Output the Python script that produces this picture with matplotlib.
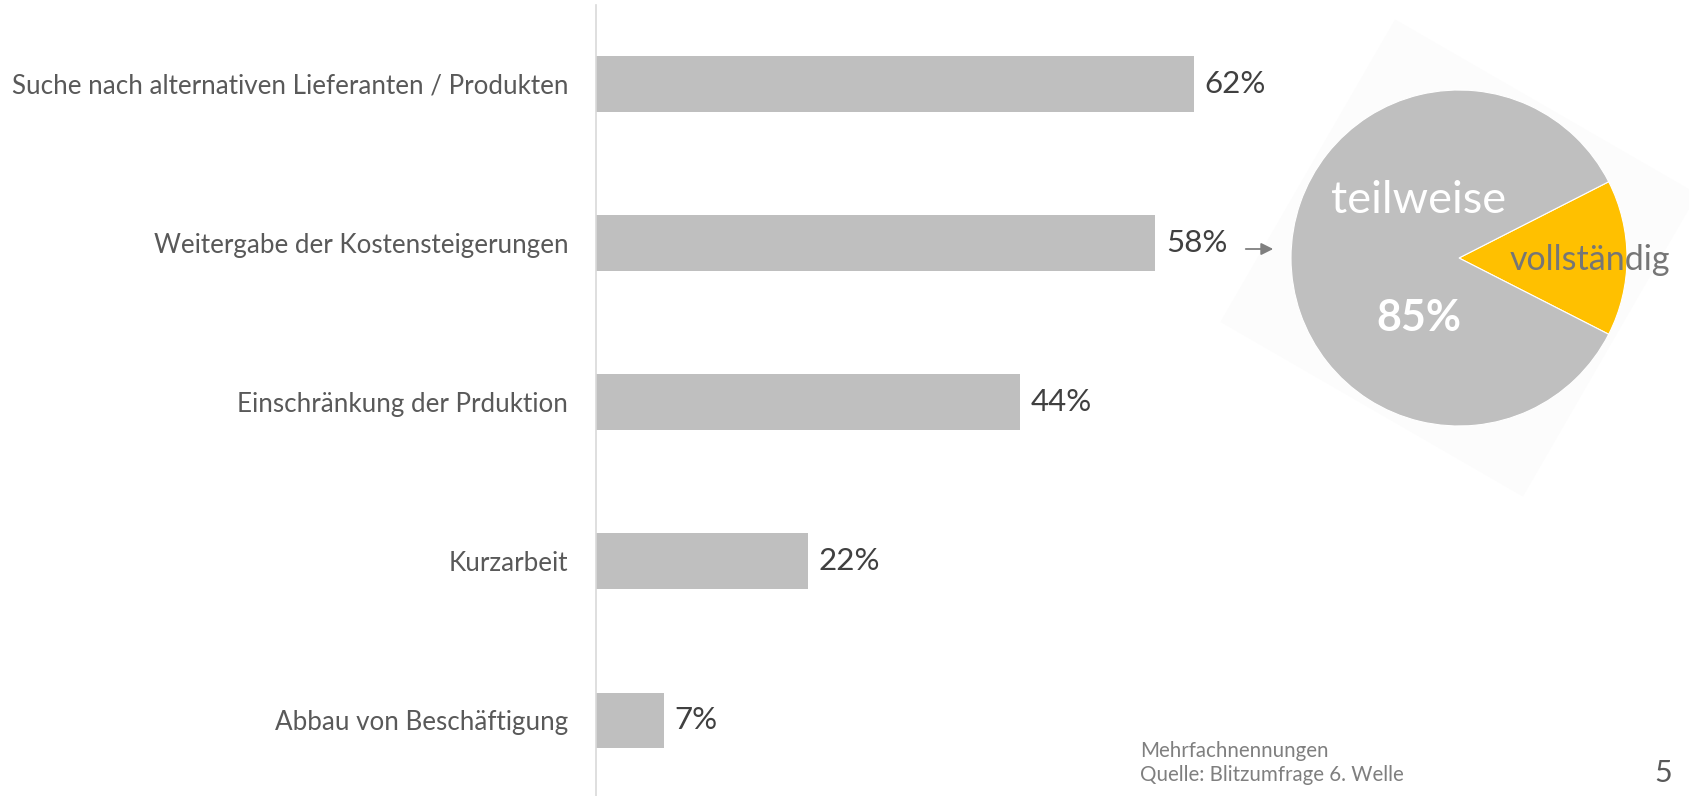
import matplotlib.pyplot as plt
from matplotlib.patches import Polygon, FancyArrowPatch
import numpy as np

plt.rcParams['font.family'] = ['Lato', 'DejaVu Sans']

# Daten
kategorien = ["Suche nach alternativen Lieferanten / Produkten",
              "Weitergabe der Kostensteigerungen",
              "Einschränkung der Prduktion",
              "Kurzarbeit",
              "Abbau von Beschäftigung"]
werte = [62, 58, 44, 22, 7]

pie_labels = ["vollständig", "teilweise"]
pie_werte = [15, 85]

W, H = 1690, 796
fig = plt.figure(figsize=(W / 100, H / 100), dpi=100)
fig.patch.set_facecolor("white")

def fx(px):
    return px / W

def fy(py):
    return 1 - py / H

grau = "#BFBFBF"
gelb = "#FFC000"

# leichter Schatten-Quader hinter dem Kreis
cx, cy, rr = 1459, 258, 247
ecken = []
for a in [105, 195, 285, 15]:
    t = np.deg2rad(a)
    ecken.append((fx(cx + rr * np.cos(t)), fy(cy - rr * np.sin(t))))
fig.patches.append(Polygon(ecken, closed=True, transform=fig.transFigure,
                           facecolor="#FCFCFC", edgecolor="none", zorder=-5))

# Balkendiagramm
px_pro_prozent = 598 / 62
ax = fig.add_axes([fx(596), 0.0, 0.42, fy(5)])
y = np.arange(len(kategorien))
ax.barh(y, werte, height=0.35, color=grau, zorder=2)
ax.set_ylim(4.475, -0.53 + 0.035)
ax.set_xlim(0, 0.42 * W / px_pro_prozent)
ax.set_yticks(y)
ax.set_yticklabels(kategorien, fontsize=18.7, color="#595959")
ax.tick_params(axis="y", length=0, pad=20)
ax.set_xticks([])
for s in ["top", "right", "bottom"]:
    ax.spines[s].set_visible(False)
ax.spines["left"].set_color("#D9D9D9")
ax.spines["left"].set_linewidth(1.2)
ax.patch.set_alpha(0)
for yi, v in zip(y, werte):
    ax.text(v + 1.1, yi, f"{v}%", va="center", ha="left", fontsize=22.5, color="#404040")

# Pfeil zum Kreisdiagramm
fig.patches.append(FancyArrowPatch(
    (fx(1243), fy(249)), (fx(1276), fy(249)), transform=fig.transFigure,
    arrowstyle="-|>", mutation_scale=18, color="#7F7F7F", lw=1.3))

# Kreisdiagramm
r = 168
pax = fig.add_axes([fx(cx - r), fy(cy + r), 2 * r / W, 2 * r / H])
pax.pie(pie_werte, colors=[gelb, grau], startangle=-27, counterclock=True,
        radius=1.0, wedgeprops=dict(edgecolor="white", linewidth=0.8))
pax.set_xlim(-1, 1)
pax.set_ylim(-1, 1)
pax.text(-0.24, 0.34, pie_labels[1], ha="center", va="center", fontsize=32.5, color="white")
pax.text(-0.24, -0.36, f"{pie_werte[1]}%", ha="center", va="center", fontsize=31,
         color="white", fontweight="bold")
pax.text(0.78, -0.01, pie_labels[0], ha="center", va="center", fontsize=24.5, color="#767676")

# Fußnoten
fig.text(fx(1140), fy(751), "Mehrfachnennungen", fontsize=14.8, color="#7F7F7F", va="center")
fig.text(fx(1140), fy(775), "Quelle: Blitzumfrage 6. Welle", fontsize=14.8, color="#7F7F7F", va="center")
fig.text(fx(1672), fy(773), "5", fontsize=22, color="#595959", va="center", ha="right")

fig.savefig("out.png", dpi=100)
